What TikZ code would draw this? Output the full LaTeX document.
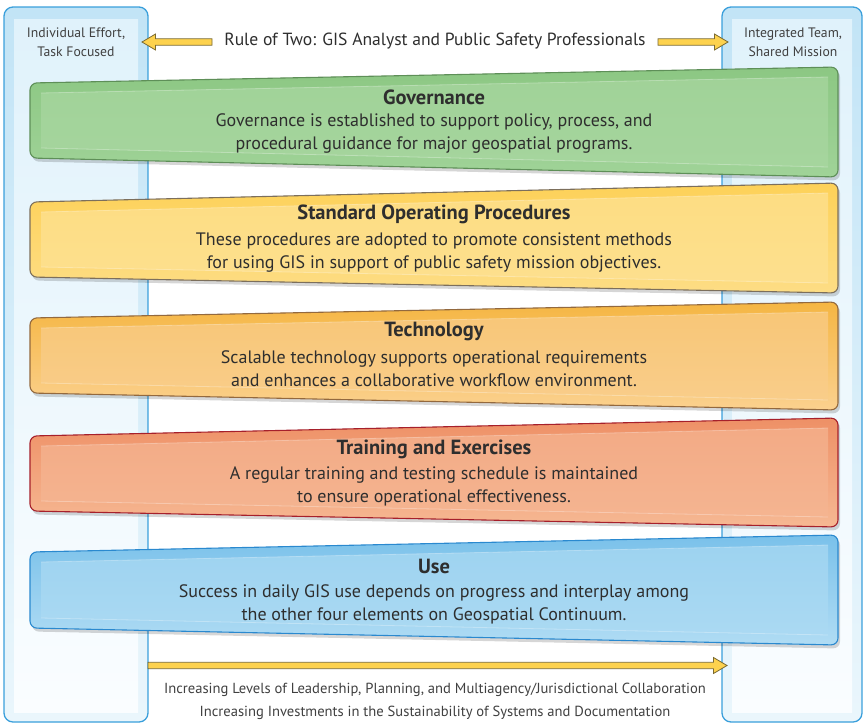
\documentclass[tikz,border=0pt]{standalone}
\usepackage{fontspec}
\setmainfont{PT Sans}
\usetikzlibrary{calc}

% column colours
\definecolor{colEdge}{HTML}{3A9FDB}
\definecolor{colOutTop}{HTML}{C2E4F6}
\definecolor{colOutBot}{HTML}{EAF6FC}
\definecolor{colInTop}{HTML}{E0F2FB}
\definecolor{colInBot}{HTML}{FAFDFF}
% band colours: top, inner panel, bottom, edge
\definecolor{gT}{HTML}{8CC783}\definecolor{gI}{HTML}{A9D7A1}\definecolor{gL}{HTML}{A0D398}\definecolor{gE}{HTML}{5E8F58}
\definecolor{sT}{HTML}{FDD158}\definecolor{sI}{HTML}{FDE294}\definecolor{sL}{HTML}{FDDD85}\definecolor{sE}{HTML}{7C6F5C}
\definecolor{tT}{HTML}{F5B643}\definecolor{tI}{HTML}{F9CD8B}\definecolor{tL}{HTML}{FBD18F}\definecolor{tE}{HTML}{93693E}
\definecolor{rT}{HTML}{EE9066}\definecolor{rI}{HTML}{F5B592}\definecolor{rL}{HTML}{F6B893}\definecolor{rE}{HTML}{A6202B}
\definecolor{uT}{HTML}{7AC1EA}\definecolor{uI}{HTML}{ABDAF3}\definecolor{uL}{HTML}{B0DCF4}\definecolor{uE}{HTML}{2A89CF}
% arrows and text
\definecolor{arrFill}{HTML}{FDD24E}
\definecolor{arrEdge}{HTML}{7A6A32}
\definecolor{txt}{HTML}{2E2E2E}
\definecolor{txtSoft}{HTML}{404040}

\tikzset{
  colframe/.style={draw=colEdge, line width=1.3pt, rounded corners=9pt},
  collabel/.style={font=\fontsize{13.7}{19}\selectfont, text=txtSoft, align=center, inner sep=0pt},
  toptitle/.style={font=\fontsize{17.6}{22}\selectfont, text=txt, inner sep=0pt},
  bandtitle/.style={font=\fontsize{20.5}{22}\selectfont\bfseries, text=txt, inner sep=0pt},
  bandbody/.style={font=\fontsize{18}{23}\selectfont, text=txt, align=center, inner sep=0pt},
  foottext/.style={font=\fontsize{14.6}{23}\selectfont, text=txtSoft, align=center, inner sep=0pt},
  fatarrow/.style={fill=arrFill, draw=arrEdge, line width=0.8pt, line join=miter},
}

% block arrow from coordinate #1 to coordinate #2; #3 = 1 points right, -1 points left
\newcommand\blockarrow[3]{%
  \filldraw[fatarrow]
    ($(#1)+(0,-3.2)$) -- ($(#2)+({-13.5*(#3)},-3.2)$) -- ($(#2)+({-13.5*(#3)},-8)$)
    -- (#2) -- ($(#2)+({-13.5*(#3)},8)$) -- ($(#2)+({-13.5*(#3)},3.2)$)
    -- ($(#1)+(0,3.2)$) -- cycle;}

\begin{document}
\begin{tikzpicture}[x=1pt,y=-1pt]
\useasboundingbox (0,0) rectangle (864,724);

% ---- side columns ----
\shade[top color=colOutTop, bottom color=colOutBot, rounded corners=9pt] (4,7) rectangle (148,722);
\shade[top color=colInTop, bottom color=colInBot] (14,19) rectangle (138,712);
\draw[colframe] (4,7) rectangle (148,722);

\shade[top color=colOutTop, bottom color=colOutBot, rounded corners=9pt] (722,7) rectangle (862,722);
\shade[top color=colInTop, bottom color=colInBot] (732,19) rectangle (852,712);
\draw[colframe] (722,7) rectangle (862,722);

\node[collabel] (indiv) at (76,42) {Individual Effort,\\Task Focused};
\node[collabel] (integ) at (793,42) {Integrated Team,\\Shared Mission};

% ---- heading with arrows ----
\node[toptitle] (rule) at (435,41) {Rule of Two: GIS Analyst and Public Safety Professionals};
\coordinate (lstart) at (212,42);
\coordinate (lend) at (142,42);
\coordinate (rstart) at (658,42);
\coordinate (rend) at (728,42);
\blockarrow{lstart}{lend}{-1}
\blockarrow{rstart}{rend}{1}

% ---- slanted bands ----
\foreach \lt/\lb/\rt/\rb/\cT/\cI/\cL/\cE in {
   83/158/67/177/gT/gI/gL/gE,
  202/277/183/293/sT/sI/sL/sE,
  318/393/302/410/tT/tI/tL/tE,
  436/511/418/527/rT/rI/rL/rE,
  552/628/535/645/uT/uI/uL/uE}{
  \fill[black, opacity=0.16, rounded corners=7pt]
    (32,\lt+3) -- (840,\rt+3) -- (840,\rb+3.5) -- (32,\lb+3.5) -- cycle;
  \shade[top color=\cT, bottom color=\cL, rounded corners=7pt]
    (30,\lt) -- (838,\rt) -- (838,\rb) -- (30,\lb) -- cycle;
  \fill[\cI, opacity=0.7]
    (41,\lt+10) -- (828,\rt+10) -- (828,\rb-10) -- (41,\lb-10) -- cycle;
  \draw[white, opacity=0.3, line width=0.8pt]
    (41,\lt+10) -- (828,\rt+10) (41,\lb-10) -- (828,\rb-10);
  \draw[\cE, line width=1.1pt, rounded corners=7pt]
    (30,\lt) -- (838,\rt) -- (838,\rb) -- (30,\lb) -- cycle;
}

% ---- band texts ----
\node[bandtitle] (govT) at (434,97) {Governance};
\node[bandbody] (govB) at (434,133.5) {Governance is established to support policy, process, and\\procedural guidance for major geospatial programs.};

\node[bandtitle] (sopT) at (434,214) {Standard Operating Procedures};
\node[bandbody] (sopB) at (434,252.5) {These procedures are adopted to promote consistent methods\\for using GIS in support of public safety mission objectives.};

\node[bandtitle] (tecT) at (434,331) {Technology};
\node[bandbody] (tecB) at (434,369) {Scalable technology supports operational requirements\\and enhances a collaborative workflow environment.};

\node[bandtitle] (trnT) at (434,449) {Training and Exercises};
\node[bandbody] (trnB) at (434,486.5) {A regular training and testing schedule is maintained\\to ensure operational effectiveness.};

\node[bandtitle] (useT) at (434,566) {Use};
\node[bandbody] (useB) at (434,604) {Success in daily GIS use depends on progress and interplay among\\the other four elements on Geospatial Continuum.};

% ---- bottom arrow and captions ----
\coordinate (bstart) at (148,665.5);
\coordinate (bend) at (727,665.5);
\blockarrow{bstart}{bend}{1}

\node[foottext] (foot) at (435,701.5) {Increasing Levels of Leadership, Planning, and Multiagency/Jurisdictional Collaboration\\Increasing Investments in the Sustainability of Systems and Documentation};
\end{tikzpicture}
\end{document}
